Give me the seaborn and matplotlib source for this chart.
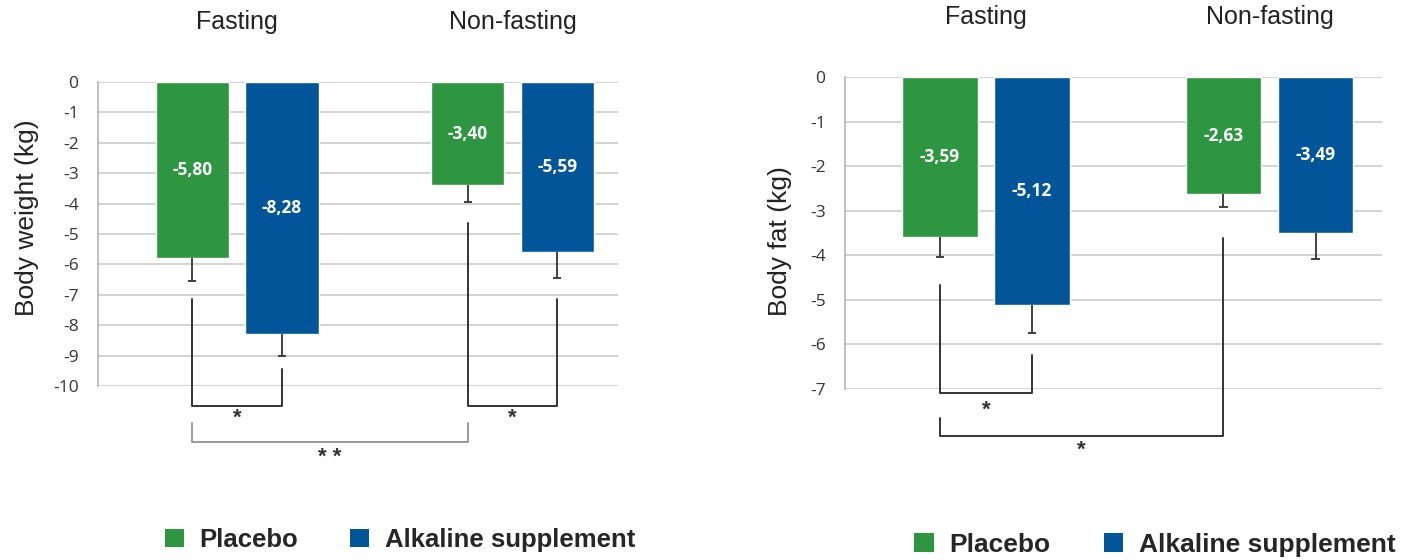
import numpy as np
import pandas as pd
import matplotlib
matplotlib.use("Agg")
import matplotlib.pyplot as plt
import seaborn as sns
from matplotlib.patches import Patch

# ---------------- data ----------------
groups = ["Fasting", "Non-fasting"]
treatments = ["Placebo", "Alkaline supplement"]

weight_placebo = [-5.80, -3.40]
weight_alkaline = [-8.28, -5.59]
weight_err_placebo = [0.75, 0.55]
weight_err_alkaline = [0.73, 0.86]

fat_placebo = [-3.59, -2.63]
fat_alkaline = [-5.12, -3.49]
fat_err_placebo = [0.45, 0.29]
fat_err_alkaline = [0.62, 0.59]

weight_ticks = [0, -1, -2, -3, -4, -5, -6, -7, -8, -9, -10]
fat_ticks = [0, -1, -2, -3, -4, -5, -6, -7]

# significance brackets: (bar a (group, treatment), bar b, start y a, start y b, level y, label, label y, color)
weight_brackets = [
    ((0, 0), (0, 1), -7.14, -9.44, -10.66, "*", -11.05, "#333333"),
    ((1, 0), (1, 1), -4.64, -7.14, -10.66, "*", -11.05, "#333333"),
    ((0, 0), (1, 0), -11.22, -11.22, -11.84, "* *", -12.34, "#9a9a9a"),
]
fat_brackets = [
    ((0, 0), (0, 1), -4.67, -6.24, -7.09, "*", -7.47, "#333333"),
    ((0, 0), (1, 0), -7.65, -3.61, -8.05, "*", -8.37, "#333333"),
]

colors = ["#2e9540", "#03559a"]

sns.set_style("white")
plt.rcParams["font.family"] = ["Open Sans", "DejaVu Sans"]

fig = plt.figure(figsize=(14.04, 5.60), dpi=100)

BAR_W = 0.65
GAP = 0.18
CAP = 0.015


def bar_x(g, h):
    return g + (h - 0.5) * BAR_W / 2


def panel(rect, placebo, alkaline, err_p, err_a, ticks, ylabel, brackets,
          xlim, title_y, ylabel_pos, legend_pos, legend_fs):
    ax = fig.add_axes(rect)
    df = pd.DataFrame({
        "group": groups * 2,
        "treatment": [treatments[0]] * 2 + [treatments[1]] * 2,
        "value": list(placebo) + list(alkaline),
    })
    sns.barplot(data=df, x="group", y="value", hue="treatment",
                order=groups, hue_order=treatments, palette=colors,
                width=BAR_W, gap=GAP, errorbar=None, legend=False,
                saturation=1, ax=ax, zorder=2)
    # error bars (lower only, single cap)
    for h, (vals, errs) in enumerate([(placebo, err_p), (alkaline, err_a)]):
        for g, (v, e) in enumerate(zip(vals, errs)):
            x = bar_x(g, h)
            ax.vlines(x, v - e, v, color="#333333", lw=1.3, zorder=3)
            ax.hlines(v - e, x - CAP, x + CAP, color="#333333", lw=1.3,
                      zorder=3)
            ax.text(x, v / 2, f"{v:.2f}".replace(".", ","), ha="center",
                    va="center", color="white", fontsize=12.5,
                    fontweight="bold", zorder=4)
    ax.set_ylim(ticks[-1], ticks[0])
    ax.set_xlim(*xlim)
    ax.set_yticks(ticks)
    ax.set_yticklabels([str(t) for t in ticks])
    ax.set_xticks([])
    ax.set_xlabel("")
    ax.set_ylabel("")
    ax.yaxis.grid(True, color="#cccccc", linewidth=1.2, zorder=0)
    ax.xaxis.grid(False)
    ax.set_axisbelow(True)
    for s in ["top", "right", "bottom"]:
        ax.spines[s].set_visible(False)
    ax.spines["left"].set_color("#b5b5b5")
    ax.spines["left"].set_linewidth(1.2)
    ax.tick_params(axis="y", length=0, pad=14, labelsize=12.5,
                   labelcolor="#333333")
    # group titles
    for g, name in enumerate(groups):
        ax.text(g, title_y, name, transform=ax.get_xaxis_transform(),
                ha="center", va="center", fontsize=18, color="#222222",
                family=["Liberation Sans", "DejaVu Sans"])
    fig.text(ylabel_pos[0], ylabel_pos[1], ylabel, rotation=90,
             ha="center", va="center", fontsize=19, color="#222222",
             family=["Liberation Sans Narrow", "Liberation Sans", "DejaVu Sans"])
    # brackets
    for a, b, ya, yb, lvl, lab, ly, col in brackets:
        xa = bar_x(*a)
        xb = bar_x(*b)
        ax.plot([xa, xa, xb, xb], [ya, lvl, lvl, yb], color=col, lw=1.4,
                clip_on=False, zorder=3)
        ax.text((xa + xb) / 2, ly, lab, ha="center", va="center",
                fontsize=16, fontweight="bold", color="#333333",
                family=["Liberation Sans", "DejaVu Sans"])
    handles = [Patch(facecolor=c, edgecolor="none") for c in colors]
    fig.legend(handles, treatments, loc="center", ncol=2, frameon=False,
               bbox_to_anchor=legend_pos, handlelength=0.75, handleheight=0.75,
               handletextpad=0.6, columnspacing=2.0,
               prop={"family": ["Liberation Sans", "DejaVu Sans"],
                     "weight": "bold", "size": legend_fs})
    return ax


panel([98 / 1404, 1 - 386 / 560, 520 / 1404, 304 / 560],
      weight_placebo, weight_alkaline, weight_err_placebo, weight_err_alkaline,
      weight_ticks, "Body weight (kg)", weight_brackets,
      (-0.505, 1.383), 1.197, (27 / 1404, 1 - 218 / 560),
      (400 / 1404, 1 - 540 / 560), 18.5)

panel([845 / 1404, 1 - 389 / 560, 537 / 1404, 312 / 560],
      fat_placebo, fat_alkaline, fat_err_placebo, fat_err_alkaline,
      fat_ticks, "Body fat (kg)", fat_brackets,
      (-0.497, 1.397), 1.192, (780 / 1404, 1 - 241 / 560),
      (1155 / 1404, 1 - 545 / 560), 19)

fig.savefig("out.png", dpi=100, facecolor="white")
